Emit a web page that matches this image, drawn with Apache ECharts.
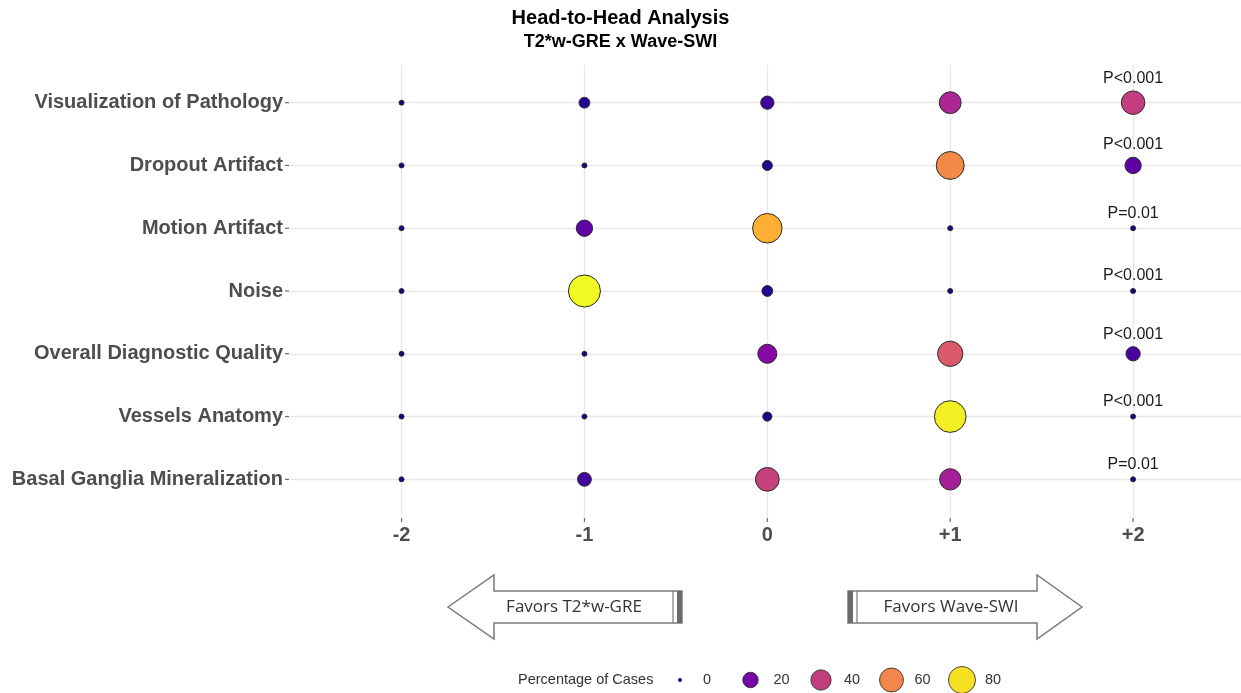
<!DOCTYPE html>
<html><head><meta charset="utf-8">
<script src="https://cdn.jsdelivr.net/npm/echarts@6/dist/echarts.min.js"></script>
<style>html,body{margin:0;padding:0;background:#fff}#c{width:1241px;height:693px}</style>
</head><body><div id="c"></div>
<script>
// ---- data ----
const categories = ['Visualization of Pathology','Dropout Artifact','Motion Artifact','Noise','Overall Diagnostic Quality','Vessels Anatomy','Basal Ganglia Mineralization'];
const scores = [-2, -1, 0, 1, 2];
const scoreLabels = ['-2', '-1', '0', '+1', '+2'];
const pctVisualization = [0, 4, 8, 33, 40];
const pctDropout = [0, 0, 3, 61, 15];
const pctMotion = [0, 15, 70, 0, 0];
const pctNoise = [0, 85, 4, 0, 0];
const pctOverall = [0, 0, 23, 48, 10];
const pctVessels = [0, 0, 2, 83, 0];
const pctBasal = [0, 9, 41, 31, 0];
const pValues = ['P<0.001', 'P<0.001', 'P=0.01', 'P<0.001', 'P<0.001', 'P<0.001', 'P=0.01'];
const legendValues = [0, 20, 40, 60, 80];
const rows = [pctVisualization, pctDropout, pctMotion, pctNoise, pctOverall, pctVessels, pctBasal];

// ---- scales ----
const PMAX = 85;
const XMIN = -2.61, XMAX = 2.59, YMIN = -0.6, YMAX = 6.6;
const plasma = ['#0d0887','#41049d','#6a00a8','#8f0da4','#b12a90','#cc4778','#e16462','#f2844b','#fca636','#fcce25','#f0f921'];
function sizeOf(v){ return 5 + 27 * Math.sqrt(v / PMAX); }
function hex2rgb(h){ return [parseInt(h.substr(1,2),16), parseInt(h.substr(3,2),16), parseInt(h.substr(5,2),16)]; }
function colorOf(v){
  let t = Math.max(0, Math.min(1, v / PMAX)) * (plasma.length - 1);
  let i = Math.min(Math.floor(t), plasma.length - 2), f = t - i;
  const a = hex2rgb(plasma[i]), b = hex2rgb(plasma[i+1]);
  return 'rgb(' + a.map((x,k)=>Math.round(x + (b[k]-x)*f)).join(',') + ')';
}

const FONT = 'Liberation Sans, Arial, Helvetica, sans-serif';
const data = [];
rows.forEach((row, i) => {
  row.forEach((v, j) => {
    const item = { value: [scores[j], i, v] };
    if (j === scores.length - 1) item.label = { show: true, formatter: pValues[i] };
    data.push(item);
  });
});
const yTickData = categories.map((c, i) => [XMIN, i]);
const xTickData = scores.map(s => [s, YMAX]);

// ---- decorations (arrows, legend) ----
const arrowStroke = { fill: '#fff', stroke: '#7a7a7a', lineWidth: 1.5 };
const graphics = [
  { type: 'polygon', shape: { points: [[448,607],[494,575],[494,591],[682,591],[682,623],[494,623],[494,639]] }, style: arrowStroke },
  { type: 'line', shape: { x1: 673, y1: 591, x2: 673, y2: 623 }, style: { stroke: '#7a7a7a', lineWidth: 1.2 } },
  { type: 'rect', shape: { x: 677, y: 591, width: 5, height: 32 }, style: { fill: '#6a6a6a' } },
  { type: 'text', x: 574, y: 607, style: { text: 'Favors T2*w-GRE', fontFamily: 'Open Sans, sans-serif', fontSize: 17, fill: '#333', align: 'center', verticalAlign: 'middle' } },
  { type: 'polygon', shape: { points: [[1082,607],[1037,575],[1037,591],[848,591],[848,623],[1037,623],[1037,639]] }, style: arrowStroke },
  { type: 'rect', shape: { x: 848, y: 591, width: 5, height: 32 }, style: { fill: '#6a6a6a' } },
  { type: 'line', shape: { x1: 857, y1: 591, x2: 857, y2: 623 }, style: { stroke: '#7a7a7a', lineWidth: 1.2 } },
  { type: 'text', x: 951, y: 607, style: { text: 'Favors Wave-SWI', fontFamily: 'Open Sans, sans-serif', fontSize: 17, fill: '#333', align: 'center', verticalAlign: 'middle' } },
  { type: 'text', x: 518, y: 680, style: { text: 'Percentage of Cases', fontFamily: FONT, fontSize: 14.5, fill: '#333', align: 'left', verticalAlign: 'middle' } }
];
legendValues.forEach((v, i) => {
  const cx = 680 + 70.5 * i;
  const d = 4 + 23 * Math.sqrt(v / 80);
  graphics.push({ type: 'circle', shape: { cx: cx, cy: 680, r: d / 2 }, style: { fill: colorOf(v), stroke: '#333', lineWidth: v === 0 ? 0 : 0.9 } });
  graphics.push({ type: 'text', x: cx + 23, y: 680, style: { text: String(v), fontFamily: FONT, fontSize: 14.5, fill: '#333', align: 'left', verticalAlign: 'middle' } });
});

const chart = echarts.init(document.getElementById('c'), null, { renderer: 'canvas' });
chart.setOption({
  animation: false,
  backgroundColor: '#fff',
  title: [
    { text: 'Head-to-Head Analysis', left: 'center', top: 8, padding: 0, textStyle: { fontFamily: FONT, fontSize: 20, fontWeight: 'bold', color: '#000' } },
    { text: 'T2*w-GRE x Wave-SWI', left: 'center', top: 33, padding: 0, textStyle: { fontFamily: FONT, fontSize: 18, fontWeight: 'bold', color: '#000' } }
  ],
  grid: { left: 290, right: 0, top: 65, bottom: 176, containLabel: false },
  xAxis: {
    type: 'value', min: XMIN, max: XMAX,
    axisLine: { show: false },
    axisTick: { show: false, customValues: scores },
    axisLabel: { customValues: scores, formatter: v => scoreLabels[scores.indexOf(v)], fontFamily: FONT, fontSize: 20, fontWeight: 'bold', color: '#4d4d4d', margin: 8 },
    splitLine: { show: true, lineStyle: { color: '#e8e8e8', width: 1.4 } }
  },
  yAxis: {
    type: 'value', min: YMIN, max: YMAX, inverse: true,
    axisLine: { show: false },
    axisTick: { show: false, customValues: categories.map((c, i) => i) },
    axisLabel: { customValues: categories.map((c, i) => i), formatter: v => categories[v], fontFamily: FONT, fontSize: 20, fontWeight: 'bold', color: '#4d4d4d', margin: 7 },
    splitLine: { show: true, lineStyle: { color: '#e8e8e8', width: 1.4 } }
  },
  visualMap: {
    show: false, type: 'continuous', dimension: 2, min: 0, max: PMAX, seriesIndex: 0,
    inRange: { color: plasma }
  },
  series: [{
    type: 'scatter',
    data: data,
    symbol: 'circle',
    symbolSize: v => sizeOf(v[2]),
    itemStyle: { borderColor: '#2a2a2a', borderWidth: 1, opacity: 1 },
    label: { show: false, position: 'top', distance: 4, color: '#1a1a1a', fontFamily: FONT, fontSize: 16 },
    emphasis: { disabled: true },
    z: 3
  }, {
    type: 'scatter', data: yTickData, symbol: 'rect', symbolSize: [4, 1.2], symbolOffset: [-3, 0],
    itemStyle: { color: '#444' }, clip: false, silent: true, z: 2
  }, {
    type: 'scatter', data: xTickData, symbol: 'rect', symbolSize: [1.2, 4], symbolOffset: [0, 3],
    itemStyle: { color: '#444' }, clip: false, silent: true, z: 2
  }],
  graphic: graphics
});
</script></body></html>
